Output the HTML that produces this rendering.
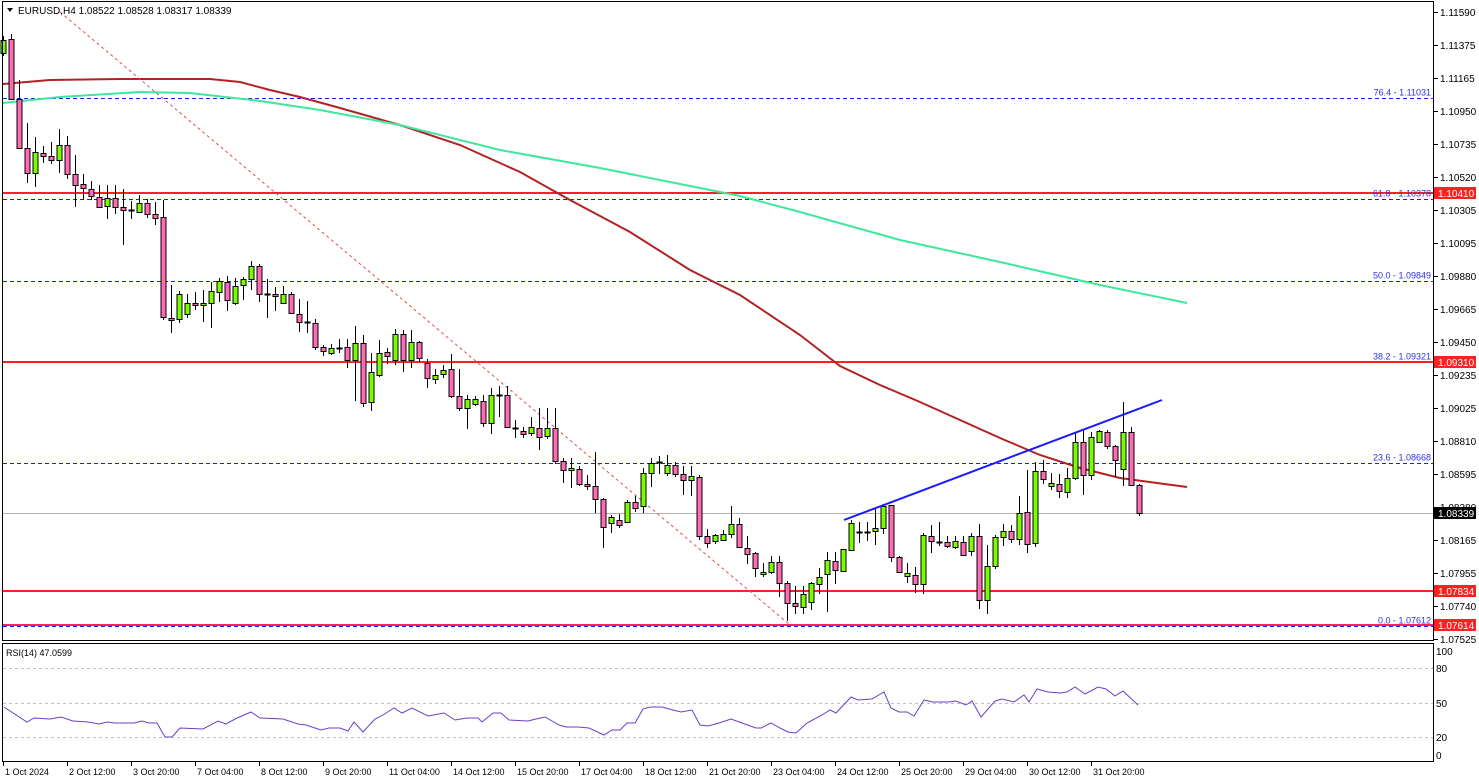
<!DOCTYPE html>
<html><head><meta charset="utf-8"><style>
html,body{margin:0;padding:0;background:#fff;}
svg{display:block;font-family:"Liberation Sans",sans-serif;}
</style></head><body>
<svg id="s" width="1479" height="782" xmlns="http://www.w3.org/2000/svg">
<rect x="0" y="0" width="1479" height="782" fill="#fff"/>
<g id="grid"></g>
<g id="lines"></g>
<g id="candles"></g>
<g id="over"></g>
<rect x="2.5" y="1.5" width="1431" height="639" fill="none" stroke="#000" stroke-width="1"/>
<rect x="2.5" y="643.5" width="1431" height="118" fill="none" stroke="#000" stroke-width="1"/>
<g id="axis" font-size="10" fill="#000"></g>
<text x="18" y="14" font-size="10">EURUSD,H4  1.08522 1.08528 1.08317 1.08339</text>
<polygon points="7,8 13,8 10,12" fill="#000"/>
<text x="6" y="656" font-size="9">RSI(14) 47.0599</text>
</svg>
<script>
const NS="http://www.w3.org/2000/svg";
function el(p,t,a,txt){const e=document.createElementNS(NS,t);for(const k in a)e.setAttribute(k,a[k]);if(txt!==undefined)e.textContent=txt;document.getElementById(p).appendChild(e);return e;}
const Y=p=>12+(1.1159-p)*15424;
const fib=[["76.4 - 1.11031",1.11031],["61.8 - 1.10378",1.10378],["50.0 - 1.09849",1.09849],["38.2 - 1.09321",1.09321],["23.6 - 1.08668",1.08668],["0.0 - 1.07612",1.07612]];
fib.forEach(f=>{const y=Math.round(Y(f[1]))+0.5;el("lines","line",{x1:3,x2:1433,y1:y,y2:y,stroke:"#1a1aff","stroke-dasharray":"4,3","stroke-width":1});el("over","text",{x:1431,y:y-3,"font-size":9,"text-anchor":"end",fill:"#3030e0"},f[0]);});
el("lines","line",{x1:3,x2:1433,y1:513.5,y2:513.5,stroke:"#b0b0b0"});
[[193,"#ff2020"],[362,"#ff2020"],[591,"#ff2020"],[625,"#ff2060"]].forEach(r=>el("lines","line",{x1:3,x2:1433,y1:r[0],y2:r[0],stroke:r[1],"stroke-width":2}));
el("lines","polyline",{points:"3,84 50,80 120,79 210,79 240,82 270,90 300,97 340,108 400,125 460,145 520,172 570,200 630,232 690,270 740,295 800,335 840,366 880,385 920,402 960,420 1000,438 1040,455 1080,468 1120,478 1187,487",fill:"none",stroke:"#b22222","stroke-width":2});
el("lines","polyline",{points:"3,103 60,97 140,92 190,93 260,101 320,110 400,125 500,150 600,168 700,188 740,196 800,212 900,240 1000,262 1100,285 1187,303",fill:"none",stroke:"#3ee89a","stroke-width":2});
el("lines","line",{x1:60,y1:12,x2:790,y2:625,stroke:"#e05050","stroke-dasharray":"3,3","stroke-width":1});
el("over","line",{x1:844,y1:520,x2:1162,y2:400,stroke:"#1a1aff","stroke-width":2});
const C=[
["g",40,53,36,56],["p",39,99,34,100],
["p",99,148,80,149],["p",148,173,123,183],["g",152,173,137,187],["p",153,156,146,163],["p",156,160,142,164],["g",145,160,129,173],["p",145,174,136,179],["p",174,185,155,207],["p",184,188,174,200],["p",189,196,181,200],
["p",197,207,185,208],["g",198,206,185,219],["p",198,207,185,214],["p",207,210,189,245],["d",210,210,201,219],["g",203,212,195,213],["p",203,214,199,218],["p",214,218,202,225],["p",217,317,200,320],["p",318,320,285,333],
["g",294,319,291,323],["g",303,314,294,318],["p",303,305,292,310],["g",303,305,290,322],["g",291,303,282,328],["g",281,292,278,302],["p",282,300,276,311],["g",286,303,278,305],["g",279,285,277,300],["g",266,279,261,290],
["p",266,294,264,302],["d",294,294,279,318],["p",294,296,287,311],["g",294,303,286,303],["p",294,313,292,314],["p",314,322,299,332],["d",322,322,301,333],["p",323,347,319,350],["p",347,351,345,356],["g",348,353,344,355],
["d",348,348,339,353],["p",347,360,339,368],["g",343,360,326,401],["p",343,403,335,407],["g",372,402,353,411],["g",353,375,340,377],["p",352,356,348,364],["g",334,360,329,365],["p",334,360,330,372],["g",342,360,330,368],
["p",342,358,341,362],["p",363,378,359,388],["g",375,379,369,384],["g",370,374,365,378],["p",369,396,354,398],["p",396,408,369,411],["g",399,408,395,429],["g",399,404,396,406],["p",401,423,395,427],["g",395,423,388,434],
["d",395,395,386,417],["p",395,427,386,428],["d",428,428,420,438],["p",431,434,427,438],["g",427,433,417,436],["p",428,437,408,450],["g",428,436,408,439],["p",428,461,408,464],
["p",461,470,458,483],["g",468,470,458,488],["p",469,484,466,486],["p",484,486,475,490],["p",486,499,452,513],["p",499,527,498,548],["g",517,523,515,533],["p",520,525,514,528],["g",502,522,500,523],["p",502,508,496,512],
["g",473,506,468,513],["g",463,473,458,487],["d",462,462,456,474],["g",465,473,455,476],["p",465,474,462,477],["p",474,480,466,495],["g",476,480,466,496],["p",477,536,475,540],["p",536,543,529,548],["g",535,541,534,544],
["g",534,540,530,541],["g",524,534,506,538],["p",524,547,518,548],["p",548,554,536,564],["p",553,568,552,577],["g",572,574,563,577],["g",562,572,556,574],["p",562,583,556,597],["p",583,603,581,621],["p",603,606,586,614],
["g",594,607,586,614],["g",583,602,582,610],["g",577,584,568,594],["g",560,574,552,612],["p",561,570,552,584],["g",549,571,549,571],["g",523,550,520,550],["d",532,532,522,543],["d",532,532,522,541],["g",528,531,508,545],
["g",506,528,504,534],["p",505,557,505,562],["p",557,572,556,573],["g",573,576,563,583],["p",575,584,567,593],["g",535,584,533,594],["p",536,541,525,553],["d",542,542,522,546],["p",542,546,536,548],["g",541,547,536,549],
["p",542,555,536,556],["g",536,551,533,556],["p",536,600,524,609],["g",566,600,545,614],["g",537,566,535,569],["g",531,537,524,546],["p",531,539,525,543],["g",513,539,496,545],["p",512,544,470,553],["g",471,543,462,547],
["p",471,479,460,484],["g",483,486,473,490],["p",484,491,474,498],["g",478,492,468,498],["g",442,478,432,480],["p",442,475,430,495],["g",437,475,432,480],["g",431,442,430,442],["p",432,446,430,449],["p",446,460,445,477],
["g",432,469,402,486],["p",432,485,427,486],["p",485,513,484,516]
];
const n=C.length, step=(1139-3)/(n-1);
C.forEach((c,i)=>{const x=Math.round(3+i*step)+0.5;
 el("candles","line",{x1:x,x2:x,y1:c[3],y2:c[4],stroke:"#000"});
 if(c[0]=="d"){el("candles","line",{x1:x-3,x2:x+3,y1:c[1]+0.5,y2:c[1]+0.5,stroke:"#000","stroke-width":2});}
 else{const h=Math.max(2,c[2]-c[1]);el("candles","rect",{x:x-2.5,y:c[1]+0.5,width:5,height:h,fill:c[0]=="g"?"#7cfc00":"#ff69b4",stroke:"#000","stroke-width":1});}
});
[[80,668],[50,703],[20,737]].forEach(l=>el("grid","line",{x1:3,x2:1433,y1:l[1]+0.5,y2:l[1]+0.5,stroke:"#c0c0c0","stroke-dasharray":"3,3"}));
el("lines","polyline",{points:"4,707 27,722 34,718 50,719 61,717 73,721 88,722 99,724 107,722 115,723 134,723 142,721 149,723 157,723 165,737 172,737 180,728 203,729 218,721 226,724 237,718 251,712 260,718 283,719 298,724 306,725 321,730 329,728 340,728 348,731 354,722 363,732 375,719 383,715 394,708 402,713 412,708 428,716 444,713 455,720 467,718 478,718 482,722 493,713 501,713 509,720 528,721 536,719 545,717 559,725 566,727 578,727 589,728 604,735 612,730 620,730 627,723 635,723 643,709 650,707 662,707 673,710 681,712 692,710 700,725 708,726 719,723 731,719 742,723 756,728 761,728 771,723 780,728 788,732 796,733 807,723 822,715 830,710 836,713 851,697 858,700 872,699 884,692 891,708 899,712 907,712 914,716 924,700 933,702 949,702 956,701 966,705 972,701 981,717 995,701 1002,699 1014,702 1024,695 1029,702 1037,689 1048,692 1060,693 1067,692 1075,687 1085,694 1098,687 1106,689 1115,696 1123,691 1138,705",fill:"none",stroke:"#6a3fc8","stroke-width":1});
["1.11590","1.11375","1.11165","1.10950","1.10735","1.10520","1.10305","1.10095","1.09880","1.09665","1.09450","1.09235","1.09025","1.08810","1.08595","1.08380","1.08165","1.07955","1.07740","1.07525"].forEach(s=>{const y=Math.round(Y(parseFloat(s)));el("axis","line",{x1:1434,x2:1438,y1:y+0.5,y2:y+0.5,stroke:"#000"});el("axis","text",{x:1440,y:y+4},s);});
[[193,"1.10410","#ff2020"],[362,"1.09310","#ff2020"],[591,"1.07834","#ff2020"],[625,"1.07614","#ff2020"],[513,"1.08339","#000"]].forEach(b=>{el("axis","rect",{x:1434,y:b[0]-6,width:42,height:12,fill:b[2]});el("axis","text",{x:1438,y:b[0]+4,fill:"#fff"},b[1]);});
[["100",651],["80",668],["50",703],["20",737],["0",755]].forEach(r=>el("axis","text",{x:1436,y:r[1]+4},r[0]));
["1 Oct 2024","2 Oct 12:00","3 Oct 20:00","7 Oct 04:00","8 Oct 12:00","9 Oct 20:00","11 Oct 04:00","14 Oct 12:00","15 Oct 20:00","17 Oct 04:00","18 Oct 12:00","21 Oct 20:00","23 Oct 04:00","24 Oct 12:00","25 Oct 20:00","29 Oct 04:00","30 Oct 12:00","31 Oct 20:00"].forEach((s,i)=>{const x=3+i*64;el("axis","line",{x1:x+0.5,x2:x+0.5,y1:762,y2:766,stroke:"#000"});el("axis","text",{x:x+2,y:775,"font-size":9},s);});
</script>
</body></html>
